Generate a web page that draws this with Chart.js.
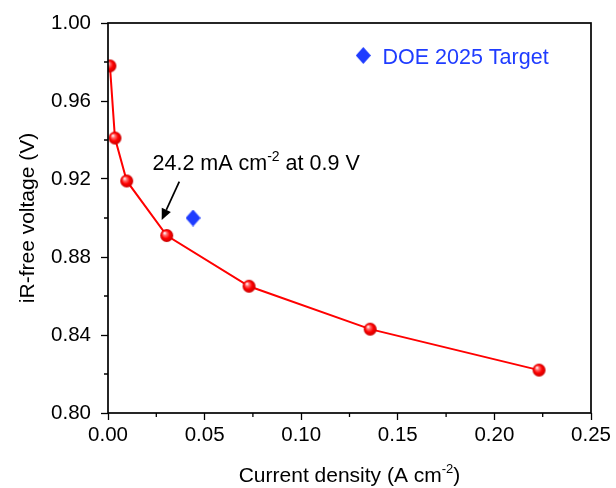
<!DOCTYPE html>
<html>
<head>
<meta charset="utf-8">
<script src="https://cdn.jsdelivr.net/npm/chart.js@4.4.1/dist/chart.umd.min.js"></script>
<style>
  html, body { margin: 0; padding: 0; background: #fff; }
  #wrap { width: 616px; height: 488px; }
</style>
</head>
<body>
<div id="wrap"><canvas id="c" width="616" height="488"></canvas></div>
<script>
// Polarization curve: current density (A cm^-2) vs iR-free voltage (V)
const currentDensity = [0.001, 0.0036, 0.0097, 0.0304, 0.0730, 0.1357, 0.2231];
const irFreeVoltage  = [0.978, 0.941, 0.919, 0.891, 0.865, 0.843, 0.822];

// DOE 2025 target point
const targetCurrent = [0.044];
const targetVoltage = [0.900];
const targetLabel = 'DOE 2025 Target';

// Annotation: arrow tail / head in data units, and text
const arrowFrom = [0.0369, 0.9186];
const arrowTo   = [0.0278, 0.8990];
const noteParts = [['24.2 mA cm', false], ['-2', true], [' at 0.9 V', false]];

const xTicks = [0, 0.05, 0.10, 0.15, 0.20, 0.25];
const yTicks = [0.80, 0.84, 0.88, 0.92, 0.96, 1.00];
const xTitleParts = [['Current density (A cm', false], ['-2', true], [')', false]];
const yTitle = 'iR-free voltage (V)';

const FONT = '"Liberation Sans", Arial, sans-serif';
const RED = '#ff0000';
const BLUE = '#1f3cff';

// shaded sphere marker
function sphereMarker(r) {
  const s = Math.ceil(r * 2 + 2);
  const cv = document.createElement('canvas');
  cv.width = s; cv.height = s;
  const g = cv.getContext('2d');
  const c = s / 2;
  const grad = g.createRadialGradient(c - r * 0.35, c - r * 0.4, r * 0.05, c, c, r);
  grad.addColorStop(0, '#ffffff');
  grad.addColorStop(0.25, '#ff7070');
  grad.addColorStop(0.6, '#ff0000');
  grad.addColorStop(1, '#c80000');
  g.fillStyle = grad;
  g.beginPath(); g.arc(c, c, r, 0, Math.PI * 2); g.fill();
  return cv;
}

// diamond marker, slightly taller than wide
function diamondMarker(w, h) {
  const cv = document.createElement('canvas');
  cv.width = w; cv.height = h;
  const g = cv.getContext('2d');
  g.fillStyle = BLUE;
  g.beginPath();
  g.moveTo(w / 2, 0); g.lineTo(w, h / 2); g.lineTo(w / 2, h); g.lineTo(0, h / 2);
  g.closePath(); g.fill();
  return cv;
}

const sphere = sphereMarker(6.5);
const diamond = diamondMarker(15, 17);

// draw text made of normal and superscript runs
function drawRuns(ctx, parts, x, y, size, align) {
  const small = Math.round(size * 0.64);
  let total = 0;
  parts.forEach(([t, sup]) => {
    ctx.font = (sup ? small : size) + 'px ' + FONT;
    total += ctx.measureText(t).width;
  });
  let cx = align === 'center' ? x - total / 2 : x;
  ctx.textAlign = 'left';
  ctx.textBaseline = 'alphabetic';
  parts.forEach(([t, sup]) => {
    ctx.font = (sup ? small : size) + 'px ' + FONT;
    ctx.fillText(t, cx, sup ? y - size * 0.4 : y);
    cx += ctx.measureText(t).width;
  });
}

const decorations = {
  id: 'decorations',
  afterDraw(chart) {
    const ctx = chart.ctx;
    const a = chart.chartArea;
    const xs = chart.scales.x, ys = chart.scales.y;
    ctx.save();
    // frame
    ctx.strokeStyle = '#000';
    ctx.lineWidth = 1.7;
    ctx.strokeRect(a.left, a.top, a.right - a.left, a.bottom - a.top);
    // minor ticks
    ctx.lineWidth = 1.3;
    ctx.beginPath();
    for (let i = 0; i < xTicks.length - 1; i++) {
      const px = xs.getPixelForValue((xTicks[i] + xTicks[i + 1]) / 2);
      ctx.moveTo(px, a.bottom); ctx.lineTo(px, a.bottom + 4);
    }
    for (let i = 0; i < yTicks.length - 1; i++) {
      const py = ys.getPixelForValue((yTicks[i] + yTicks[i + 1]) / 2);
      ctx.moveTo(a.left, py); ctx.lineTo(a.left - 4, py);
    }
    ctx.stroke();

    // axis titles
    ctx.fillStyle = '#000';
    drawRuns(ctx, xTitleParts, (a.left + a.right) / 2, 481.5, 21, 'center');
    ctx.save();
    ctx.translate(34, (a.top + a.bottom) / 2);
    ctx.rotate(-Math.PI / 2);
    ctx.font = '21px ' + FONT;
    ctx.textAlign = 'center';
    ctx.textBaseline = 'alphabetic';
    ctx.fillText(yTitle, 0, 0);
    ctx.restore();

    // annotation text and arrow
    drawRuns(ctx, noteParts, 152.5, 170, 21.5, 'left');
    const x0 = xs.getPixelForValue(arrowFrom[0]), y0 = ys.getPixelForValue(arrowFrom[1]);
    const x1 = xs.getPixelForValue(arrowTo[0]), y1 = ys.getPixelForValue(arrowTo[1]);
    const ang = Math.atan2(y1 - y0, x1 - x0);
    const hl = 11, hw = 5;
    const bx = x1 - hl * Math.cos(ang), by = y1 - hl * Math.sin(ang);
    ctx.strokeStyle = '#000';
    ctx.lineWidth = 1.7;
    ctx.beginPath(); ctx.moveTo(x0, y0); ctx.lineTo(bx, by); ctx.stroke();
    ctx.beginPath();
    ctx.moveTo(x1, y1);
    ctx.lineTo(bx + hw * Math.sin(ang), by - hw * Math.cos(ang));
    ctx.lineTo(bx - hw * Math.sin(ang), by + hw * Math.cos(ang));
    ctx.closePath(); ctx.fillStyle = '#000'; ctx.fill();

    // legend
    ctx.drawImage(diamond, 363.3 - 7.5, 55.5 - 8.5);
    ctx.fillStyle = BLUE;
    ctx.font = '21.5px ' + FONT;
    ctx.textAlign = 'left';
    ctx.textBaseline = 'alphabetic';
    ctx.fillText(targetLabel, 382.5, 64);
    ctx.restore();
  }
};

new Chart(document.getElementById('c'), {
  type: 'scatter',
  plugins: [decorations],
  data: {
    datasets: [
      {
        label: 'iR-free voltage',
        data: currentDensity.map((x, i) => ({ x, y: irFreeVoltage[i] })),
        showLine: true,
        borderColor: RED,
        borderWidth: 2,
        pointStyle: sphere,
        pointRadius: 6.5,
        pointHoverRadius: 6.5,
        tension: 0
      },
      {
        label: targetLabel,
        data: targetCurrent.map((x, i) => ({ x, y: targetVoltage[i] })),
        showLine: false,
        pointStyle: diamond,
        pointRadius: 8
      }
    ]
  },
  options: {
    responsive: false,
    animation: false,
    devicePixelRatio: 1,
    layout: { padding: { left: 0, top: 23, right: 25, bottom: 0 } },
    plugins: { legend: { display: false }, tooltip: { enabled: false } },
    scales: {
      x: {
        type: 'linear',
        min: 0, max: 0.25,
        afterBuildTicks: s => { s.ticks = xTicks.map(v => ({ value: v })); },
        afterFit: s => { s.height = 75; },
        border: { display: false },
        grid: { drawOnChartArea: false, drawTicks: true, tickLength: 7, tickWidth: 1.3, tickColor: '#000' },
        ticks: {
          color: '#000',
          font: { family: FONT, size: 20.5 },
          padding: 3,
          maxRotation: 0,
          callback: v => v.toFixed(2)
        }
      },
      y: {
        type: 'linear',
        min: 0.80, max: 1.00,
        afterBuildTicks: s => { s.ticks = yTicks.map(v => ({ value: v })); },
        afterFit: s => { s.width = 108; },
        border: { display: false },
        grid: { drawOnChartArea: false, drawTicks: true, tickLength: 7, tickWidth: 1.3, tickColor: '#000' },
        ticks: {
          color: '#000',
          font: { family: FONT, size: 20.5 },
          padding: 10,
          callback: v => v.toFixed(2)
        }
      }
    }
  }
});
</script>
</body>
</html>
